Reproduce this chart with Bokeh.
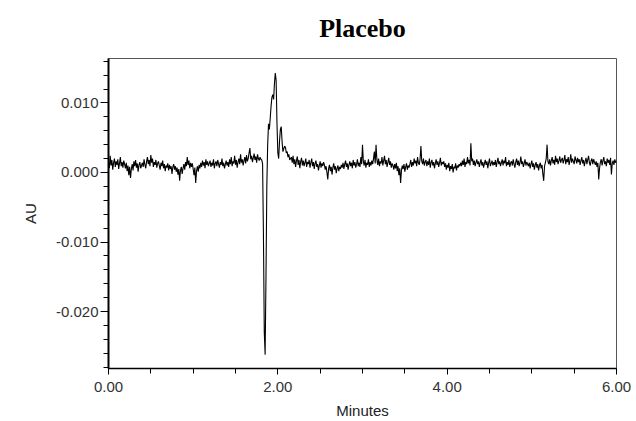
from bokeh.plotting import figure
from bokeh.models import Range1d, FixedTicker, PrintfTickFormatter
from bokeh.embed import file_html
from bokeh.resources import INLINE

# Signal, in units of 1e-4 AU
# Baseline 0.00 - 1.80 min, every 0.01 min
pre_signal = [15, 6, 24, 10, 18, 4, 14, 20, 8, 16, 11, 19, 5, 13, 22, 9, 15, 7, 17, 12,
              6, 14, 2, 10, -4, 8, -8, 5, 12, 3, 16, 9, 18, 7, 13, 1, 11, 15, 6, 10,
              14, 8, 19, 11, 6, 16, 22, 12, 18, 9, 25, 14, 20, 8, 15, 11, 18, 7, 13, 16,
              10, 4, 14, 9, 17, 6, 12, 2, 10, 7, 13, 3, 11, 5, 9, -2, 8, 12, 4, 9,
              1, 7, -3, 5, -12, 3, 8, -2, 6, 12, 4, 15, 9, 22, 11, 17, 6, 14, 8, 13,
              5, -4, 7, -15, 2, 9, 1, 11, 6, 14, 8, 17, 10, 15, 6, 19, 11, 16, 9, 13,
              17, 8, 14, 10, 19, 6, 13, 16, 9, 18, 12, 7, 15, 11, 20, 9, 14, 6, 12, 17,
              10, 15, 8, 19, 12, 22, 9, 16, 13, 24, 11, 18, 7, 15, 20, 12, 26, 14, 19, 10,
              17, 22, 13, 25, 16, 20, 28, 35, 19, 24, 15, 21, 27, 18, 23, 14, 26, 20, 17, 22,
              19]

# Peak region 1.81 - 2.15 min, every 0.01 min
peak_minutes = [1.81, 1.82, 1.83, 1.84, 1.85, 1.86, 1.87, 1.88, 1.89, 1.90,
                1.91, 1.92, 1.93, 1.94, 1.95, 1.96, 1.97, 1.98, 1.99, 2.00,
                2.01, 2.02, 2.03, 2.04, 2.05, 2.06, 2.07, 2.08, 2.09, 2.10,
                2.11, 2.12, 2.13, 2.14, 2.15]
peak_signal = [18, 12, -90, -230, -262, -150, -20, 40, 70, 62,
               78, 95, 108, 112, 105, 128, 143, 132, 70, 28,
               20, 45, 62, 66, 45, 30, 34, 38, 36, 28,
               30, 22, 26, 18, 20]

# Baseline 2.16 - 6.00 min, every 0.01 min
post_signal = [22, 14, 24, 12, 19, 8, 17, 23, 11, 18, 6, 16, 21, 10, 17, 9, 14, 20, 8, 15,
               12, 18, 7, 14, 20, 9, 15, 5, 13, 17, 8, 12, 3, 10, 16, 7, 13, 9, 15, 11,
               4, 9, 0, -10, 6, 11, 2, 8, -3, 7, 13, 4, 9, -1, 6, 10, 2, 8, 5, 11,
               7, 14, 5, 12, 17, 8, 13, 4, 11, 16, 9, 14, 6, 18, 10, 15, 7, 12, 19, 9,
               14, 8, 22, 12, 40, 16, 10, 18, 7, 14, 11, 19, 8, 15, 10, 17, 12, 20, 30, 13,
               40, 18, 11, 20, 9, 16, 13, 22, 10, 17, 24, 12, 18, 8, 15, 21, 11, 16, 7, 13,
               10, 4, 12, 6, 14, 2, 9, -4, 6, -15, 3, 10, 5, 12, 1, 8, 13, 4, 10, 7,
               12, 18, 8, 15, 10, 20, 13, 17, 9, 22, 14, 11, 19, 38, 16, 12, 20, 10, 15, 18,
               9, 16, 11, 20, 7, 14, 18, 10, 15, 6, 13, 19, 11, 16, 8, 14, 21, 10, 15, 12,
               16, 8, 13, 4, 11, 7, 14, 2, 9, 5, 12, 0, 8, 6, 13, 3, 10, 7, 12, 9,
               14, 9, 17, 11, 20, 8, 15, 12, 22, 13, 18, 10, 42, 16, 20, 11, 17, 9, 14, 19,
               12, 16, 8, 14, 19, 10, 15, 7, 13, 18, 11, 16, 6, 14, 20, 9, 13, 17, 10, 15,
               11, 18, 8, 15, 21, 12, 16, 9, 14, 19, 10, 17, 13, 22, 9, 15, 11, 18, 8, 14,
               16, 10, 19, 12, 7, 15, 20, 11, 17, 9, 14, 23, 12, 16, 8, 13, 19, 10, 15, 12,
               9, 14, 6, 12, 17, 8, 13, 4, 11, 15, 7, 12, 3, 10, 14, 6, 11, -2, -12, 9,
               14, 20, 40, 16, 12, 19, 10, 17, 22, 13, 18, 11, 24, 15, 20, 12, 17, 23, 14, 18,
               21, 13, 18, 25, 12, 19, 15, 22, 11, 17, 26, 14, 20, 16, 12, 23, 18, 13, 21, 15,
               19, 11, 17, 22, 13, 18, 9, 16, 21, 12, 18, 24, 14, 10, 17, 20, 12, 19, 15, 11,
               16, 8, 14, -10, 6, 15, 19, 10, 17, 22, 12, 16, 9, 20, 14, 18, 11, 21, -3, 13,
               17, 11, 19, 14, 16]

pre_minutes = [round(i * 0.01, 2) for i in range(len(pre_signal))]
post_minutes = [round(2.16 + i * 0.01, 2) for i in range(len(post_signal))]

x_ticks = [0.0, 2.0, 4.0, 6.0]
y_ticks = [-0.020, -0.010, 0.000, 0.010]
title_text = "Placebo"

minutes = pre_minutes + peak_minutes + post_minutes
au = [v / 10000.0 for v in pre_signal + peak_signal + post_signal]

p = figure(width=636, height=421, output_backend="svg", toolbar_location=None,
           x_range=Range1d(0, 6), y_range=Range1d(-0.02819, 0.01639),
           min_border_left=108, min_border_right=20, min_border_top=58,
           min_border_bottom=51, background_fill_color="white",
           border_fill_color="white")

p.line(minutes, au, line_color="black", line_width=1.1)

p.title.text = title_text
p.title.text_font = "Liberation Serif"
p.title.text_font_style = "bold"
p.title.text_font_size = "26px"
p.title.align = "center"
p.title.vertical_align = "top"
p.title.text_color = "black"
p.title.standoff = 27

p.grid.visible = False
p.outline_line_color = "#555555"
p.outline_line_width = 1

xa = p.xaxis[0]
xa.ticker = FixedTicker(ticks=x_ticks, minor_ticks=[i * 0.5 for i in range(13)])
xa.formatter = PrintfTickFormatter(format="%.2f")
xa.axis_label = "Minutes"
xa.axis_line_color = "black"
xa.axis_line_width = 1.5
xa.major_tick_in = 0
xa.major_tick_out = 6
xa.minor_tick_in = 0
xa.minor_tick_out = 5
xa.major_tick_line_color = "black"
xa.minor_tick_line_color = "black"
xa.major_label_standoff = 7
xa.axis_label_standoff = 7

ya = p.yaxis[0]
ya.ticker = FixedTicker(ticks=y_ticks,
                        minor_ticks=[round(-0.028 + i * 0.002, 3) for i in range(23)])
ya.formatter = PrintfTickFormatter(format="%.3f")
ya.axis_label = "AU"
ya.axis_line_color = "black"
ya.axis_line_width = 2
ya.major_tick_in = 0
ya.major_tick_out = 8
ya.minor_tick_in = 0
ya.minor_tick_out = 5
ya.major_tick_line_color = "black"
ya.minor_tick_line_color = "black"
ya.major_label_standoff = 2
ya.axis_label_standoff = 14

for ax in (xa, ya):
    ax.major_label_text_font = "Liberation Sans"
    ax.major_label_text_font_size = "15px"
    ax.major_label_text_color = "#333333"
    ax.axis_label_text_font = "Liberation Sans"
    ax.axis_label_text_font_size = "15px"
    ax.axis_label_text_font_style = "normal"
    ax.axis_label_text_color = "#222222"

open("out.html", "w").write(file_html(p, INLINE))
